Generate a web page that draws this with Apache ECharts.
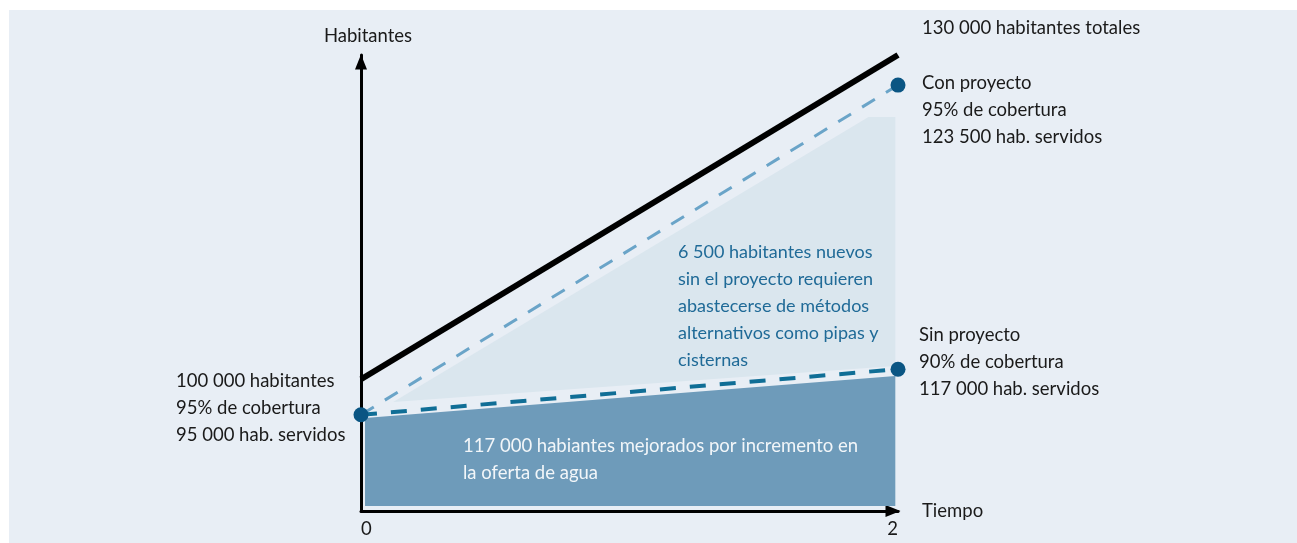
<!DOCTYPE html>
<html>
<head>
<meta charset="utf-8">
<script src="https://cdn.jsdelivr.net/npm/echarts@6/dist/echarts.min.js"></script>
<style>
  html, body { margin: 0; padding: 0; background: #fff; }
  #chart { width: 1297px; height: 543px; }
</style>
</head>
<body>
<div id="chart"></div>
<script>
// esquema: eje y en unidades de dibujo (0-100), eje x en años (0-2)
var xTicks = [0, 2];
var totalLine = [[0, 28.9], [2, 100]];
var conProyecto = [[0, 21.1], [2, 93.4]];
var sinProyecto = [[0, 21.1], [2, 31.1]];
var dots = [[0, 21.1], [2, 93.4], [2, 31.1]];
// zonas sombreadas
var zonaMejorados = [[0.015, 20.4], [1.99, 29.6], [1.99, 1.1], [0.015, 1.1]];
var zonaSinProyecto = [[0.12, 23.9], [1.89, 86.4], [1.99, 86.4], [1.99, 31.8]];

// textos
var txtTotal = ['130 000 habitantes totales'];
var txtCon = ['Con proyecto', '95% de cobertura', '123 500 hab. servidos'];
var txtSin = ['Sin proyecto', '90% de cobertura', '117 000 hab. servidos'];
var txtInicio = ['100 000 habitantes', '95% de cobertura', '95 000 hab. servidos'];
var txtNuevos = ['6 500 habitantes nuevos', 'sin el proyecto requieren', 'abastecerse de métodos',
  'alternativos como pipas y', 'cisternas'];
var txtMejorados = ['117 000 habiantes mejorados por incremento en', 'la oferta de agua'];

var FONT = 'Lato';
var chart = echarts.init(document.getElementById('chart'));

function polygonSeries(points, color) {
  return {
    type: 'custom',
    data: points,
    silent: true,
    z: 1,
    renderItem: function (params, api) {
      if (params.dataIndex !== 0) return;
      var pts = points.map(function (p) { return api.coord(p) });
      return { type: 'polygon', shape: { points: pts }, style: { fill: color } };
    }
  };
}

function textBlock(lines, x, yFirst, color, size) {
  return {
    type: 'text',
    left: x,
    top: yFirst - 13.5,
    z: 10,
    style: {
      text: lines.join('\n'),
      fill: color,
      font: (size || 18.5) + 'px ' + FONT,
      lineHeight: 27,
      verticalAlign: 'top'
    }
  };
}

var option = {
  backgroundColor: '#fff',
  animation: false,
  grid: { left: 361, right: 399, top: 55, bottom: 32 },
  xAxis: {
    type: 'value',
    min: 0,
    max: 2,
    interval: 2,
    name: 'Tiempo',
    nameGap: 24,
    nameTextStyle: { color: '#1a1a1a', fontSize: 18.5, fontFamily: FONT, padding: [0, 0, 8, 0] },
    axisLine: {
      lineStyle: { color: '#000', width: 3 },
      symbol: ['none', 'triangle'],
      symbolSize: [12, 15],
      symbolOffset: [0, -5]
    },
    axisTick: { show: false },
    splitLine: { show: false },
    axisLabel: {
      color: '#1a1a1a', fontSize: 18.5, fontFamily: FONT, margin: 9,
      alignMinLabel: 'left', alignMaxLabel: 'right',
      formatter: function (v) { return xTicks.indexOf(v) >= 0 ? String(v) : '' }
    }
  },
  yAxis: {
    type: 'value',
    min: 0,
    max: 100,
    name: 'Habitantes',
    nameGap: 9,
    nameTextStyle: { color: '#1a1a1a', fontSize: 18.5, fontFamily: FONT, padding: [0, 0, 0, 14] },
    axisLine: {
      show: true,
      lineStyle: { color: '#000', width: 3 },
      symbol: ['none', 'triangle'],
      symbolSize: [12, 15],
      symbolOffset: [0, -7]
    },
    axisTick: { show: false },
    splitLine: { show: false },
    axisLabel: { show: false }
  },
  graphic: [
    { type: 'rect', z: -10, silent: true, shape: { x: 9, y: 10, width: 1288, height: 533 }, style: { fill: '#e8eef5' } },
    textBlock(txtTotal, 922, 28, '#1a1a1a'),
    textBlock(txtCon, 922, 83, '#1a1a1a'),
    textBlock(txtSin, 919, 335, '#1a1a1a'),
    textBlock(txtInicio, 176, 381, '#1a1a1a'),
    textBlock(txtNuevos, 678, 252, '#1f6a97', 18),
    textBlock(txtMejorados, 463, 446, '#f2f6f9')
  ],
  series: [
    polygonSeries(zonaSinProyecto, '#dae6ee'),
    polygonSeries(zonaMejorados, '#6e9bba'),
    {
      name: 'Total', type: 'line', data: totalLine, symbol: 'none', z: 3,
      lineStyle: { color: '#000', width: 6, cap: 'butt' }
    },
    {
      name: 'Con proyecto', type: 'line', data: conProyecto, symbol: 'none', z: 3,
      lineStyle: { color: '#6aa4c8', width: 3, type: [15, 13] }
    },
    {
      name: 'Sin proyecto', type: 'line', data: sinProyecto, symbol: 'none', z: 3,
      lineStyle: { color: '#106e96', width: 4, type: [16, 14] }
    },
    {
      type: 'scatter', data: dots, symbolSize: 15, z: 5,
      itemStyle: { color: '#0a5583', opacity: 1 }
    }
  ]
};
chart.setOption(option);
</script>
</body>
</html>
